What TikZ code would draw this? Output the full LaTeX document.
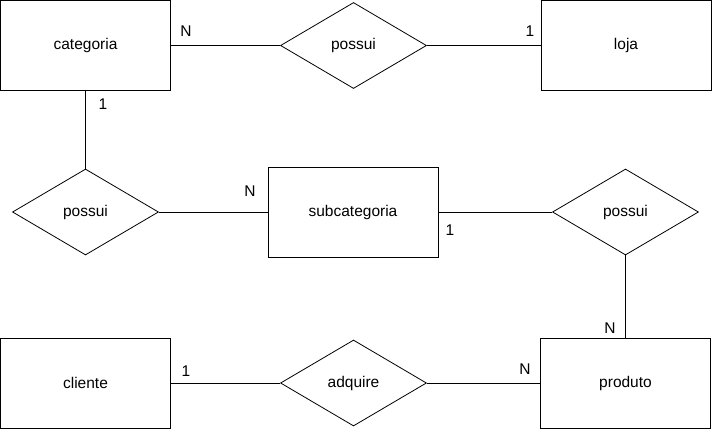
\documentclass[tikz,border=0pt]{standalone}
\usepackage{fontspec}
\setmainfont{Liberation Sans}
\usetikzlibrary{shapes.geometric}
\begin{document}
\begin{tikzpicture}[x=1pt,y=-1pt,
  entity/.style={draw, line width=1pt, minimum width=170pt, minimum height=90pt, inner sep=0pt, font=\fontsize{15.5}{18}\selectfont},
  rel/.style={draw, line width=0.8pt, shape=diamond, aspect=1.7, minimum width=146pt, minimum height=86pt, inner sep=0pt, font=\fontsize{15.5}{18}\selectfont},
  card/.style={inner sep=0pt, font=\fontsize{15.5}{18}\selectfont},
  conn/.style={line width=0.8pt}]
\useasboundingbox (0,0) rectangle (712,429);
\node[entity] (categoria) at (85.5,45.5) {categoria};
\node[rel] (possui1) at (353.5,45.5) {possui};
\node[entity] (loja) at (626,45.5) {loja};
\node[rel] (possui2) at (85.5,212) {possui};
\node[entity] (subcategoria) at (353,212) {subcategoria};
\node[rel] (possui3) at (625.5,212) {possui};
\node[entity] (cliente) at (85.5,383) {cliente};
\node[rel] (adquire) at (353.5,383) {adquire};
\node[entity] (produto) at (625.5,383) {produto};

\draw[conn] (categoria.east) -- (possui1.west);
\draw[conn] (possui1.east) -- (loja.west);
\draw[conn] (categoria.south) -- (possui2.north);
\draw[conn] (possui2.east) -- (subcategoria.west);
\draw[conn] (subcategoria.east) -- (possui3.west);
\draw[conn] (possui3.south) -- (produto.north);
\draw[conn] (cliente.east) -- (adquire.west);
\draw[conn] (adquire.east) -- (produto.west);

\node[card] (c1) at (186,31) {N};
\node[card] (c2) at (530,31) {1};
\node[card] (c3) at (103,104) {1};
\node[card] (c4) at (250,191) {N};
\node[card] (c5) at (450,230) {1};
\node[card] (c6) at (610,328) {N};
\node[card] (c7) at (186,371) {1};
\node[card] (c8) at (525,369) {N};
\end{tikzpicture}
\end{document}
